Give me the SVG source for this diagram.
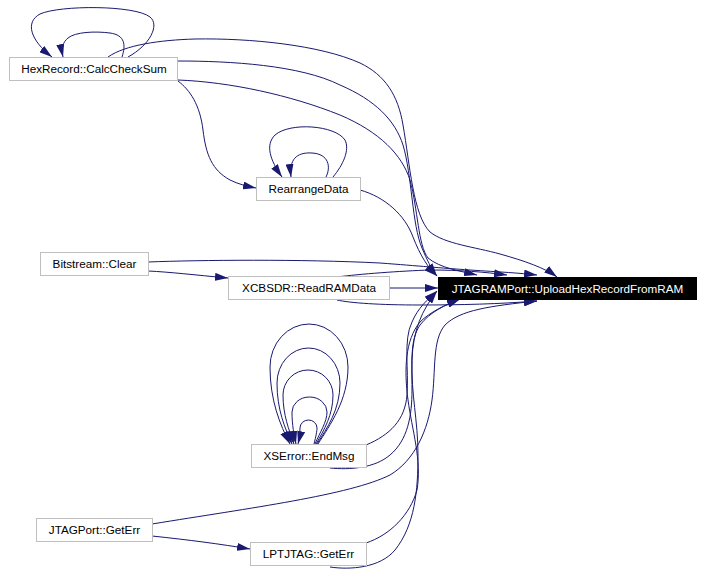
<svg xmlns="http://www.w3.org/2000/svg" width="703" height="578" viewBox="0 0 703 578">
<style>
.n rect{fill:#ffffff;stroke:#bfbfbf;stroke-width:1}
.n text{font-family:"Liberation Sans",Arial,sans-serif;font-size:11.7px;fill:#000000;text-anchor:middle}
#n_target rect{fill:#000000;stroke:#000000}
#n_target text{fill:#ffffff}
.e path{fill:none;stroke:#191970;stroke-width:1;marker-end:url(#ah)}
</style>
<defs>
<marker id="ah" viewBox="0 0 13 8" refX="13" refY="4" markerWidth="13" markerHeight="8" markerUnits="userSpaceOnUse" orient="auto">
<path d="M0,0 L13,4 L0,8 z" fill="#191970" stroke="none"/>
</marker>
</defs>
<rect width="703" height="578" fill="#ffffff"/>
<g id="edges" class="e">
<!-- HexRecord self loops -->
<path d="M128,57 C150,45 160,25 150,17 C135,5 60,5 40,14 C25,22 30,40 52,57"/>
<path d="M122,57 C126,45 125,35 110,33 C95,31 75,32 68,38 C63,42 61,48 63,57"/>
<!-- HexRecord to target -->
<path d="M108,57 C125,45 160,40 195,39 C250,38 320,45 360,63 C385,75 398,95 403,125 C410,165 413,215 430,232 C445,244 475,247 500,254 C525,261 545,268 557,277"/>
<path d="M178,61 C230,61 300,65 340,85 C375,100 395,120 403,145 C412,175 412,225 422,248 C427,260 431,268 437,276"/>
<path d="M178,80 C230,82 290,95 340,115 C380,132 402,155 410,180 C418,210 418,245 428,258 C440,268 460,271 477,275"/>
<!-- HexRecord to RearrangeData -->
<path d="M178,81 C190,90 200,105 203,130 C206,155 212,170 230,180 C238,184 246,186 256,188"/>
<!-- RearrangeData self loops -->
<path d="M333,177 C343,165 350,150 345,140 C335,125 290,122 275,135 C265,145 270,160 282,177"/>
<path d="M326,177 C331,167 329,154 312,153 C296,152 289,160 291,177"/>
<!-- RearrangeData to target -->
<path d="M360,190 C385,197 405,215 413,237 C420,255 428,268 437,276"/>
<!-- Bitstream -->
<path d="M148,262 C200,260 300,259 380,263 C420,266 440,268 470,270 C500,272 520,273 537,275"/>
<path d="M148,271 C170,272 195,275 228,278"/>
<!-- XCBSDR to target -->
<path d="M337,277 C360,274 400,271 430,270 C460,270 485,272 507,275"/>
<path d="M389,288 L438,288"/>
<path d="M337,300 C350,303 380,305 420,305 C460,305 500,304 537,301"/>
<!-- XSError self loops -->
<path d="M318,444 C330,425 348,400 348,367 A39,43 0 0 0 270,367 C270,400 280,425 290,444"/>
<path d="M317,444 C327,428 340,410 340,383 A31.5,35 0 0 0 277,383 C277,410 285,428 292,444"/>
<path d="M316,444 C324,430 333,415 333,395 A25,25 0 0 0 283,395 C283,415 289,430 294,444"/>
<path d="M315,444 C320,432 327,422 327,412 A17.5,15 0 0 0 292,412 C292,425 294,435 296,444"/>
<path d="M314,444 C316,436 317,431 317,428 A8.5,8 0 0 0 300,428 C300,434 299,440 298,444"/>
<!-- XSError to target -->
<path d="M366,445 C390,435 405,420 407,395 C409,370 403,340 412,322 C418,308 427,300 437,291"/>
<path d="M330,468 C350,470 375,468 390,455 C408,440 412,415 412,390 C412,360 410,340 420,325 C430,312 445,305 460,299"/>
<!-- JTAGPort -->
<path d="M152,524 C250,508 350,495 390,475 C415,460 428,430 432,400 C436,370 432,340 445,325 C460,310 490,306 537,301"/>
<path d="M152,536 C190,540 220,544 250,549"/>
<!-- LPTJTAG to target -->
<path d="M366,543 C390,535 410,515 417,490 C422,460 412,430 408,400 C404,370 405,340 420,322 C430,312 445,305 460,299"/>
<path d="M330,567 C350,570 380,568 395,550 C415,525 418,490 418,455 C418,420 411,395 412,360 C413,330 422,310 437,291"/>
</g>
<g id="n_hexrecord" class="n"><rect x="9.5" y="57.5" width="168" height="23"/><text x="94" y="73">HexRecord::CalcCheckSum</text></g>
<g id="n_rearrange" class="n"><rect x="256.5" y="177.5" width="104" height="23"/><text x="308.5" y="193">RearrangeData</text></g>
<g id="n_bitstream" class="n"><rect x="40.5" y="252.5" width="108" height="23"/><text x="94.5" y="268">Bitstream::Clear</text></g>
<g id="n_xcbsdr" class="n"><rect x="228.5" y="276.5" width="161" height="23"/><text x="309" y="292">XCBSDR::ReadRAMData</text></g>
<g id="n_target" class="n"><rect x="438.5" y="277.5" width="258" height="22"/><text x="567.5" y="292.5">JTAGRAMPort::UploadHexRecordFromRAM</text></g>
<g id="n_xserror" class="n"><rect x="251.5" y="444.5" width="115" height="23"/><text x="309" y="460">XSError::EndMsg</text></g>
<g id="n_jtagport" class="n"><rect x="36.5" y="518.5" width="116" height="23"/><text x="94.5" y="534">JTAGPort::GetErr</text></g>
<g id="n_lptjtag" class="n"><rect x="250.5" y="542.5" width="116" height="23"/><text x="308.5" y="558">LPTJTAG::GetErr</text></g>
</svg>
